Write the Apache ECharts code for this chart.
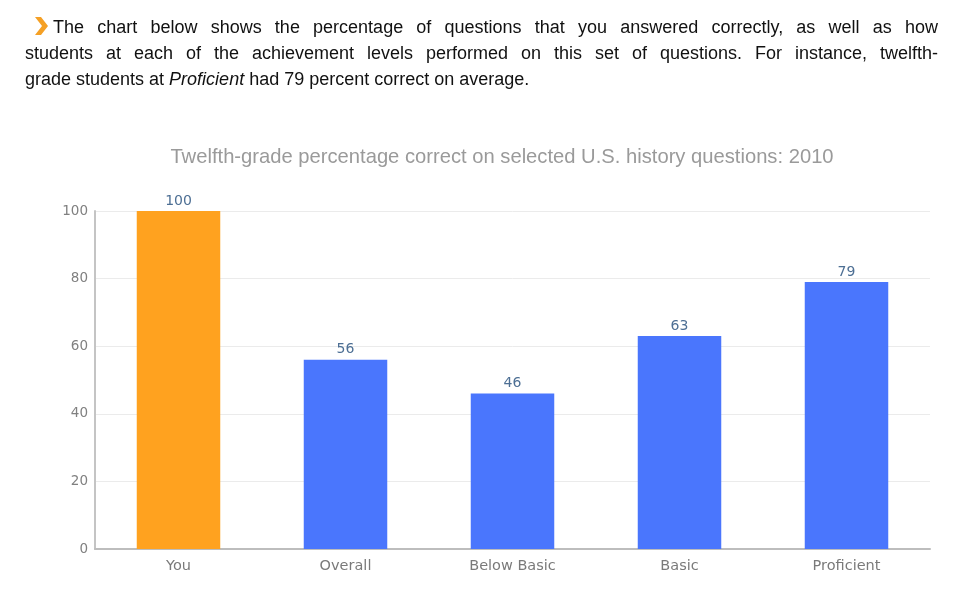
<!DOCTYPE html>
<html><head><meta charset="utf-8">
<script src="https://cdn.jsdelivr.net/npm/echarts@6/dist/echarts.min.js"></script>
<style>
html,body{margin:0;padding:0;background:#fff;}
#wrap{position:relative;width:974px;height:595px;overflow:hidden;}
#chart{position:absolute;left:0;top:0;width:974px;height:595px;}
#intro{position:absolute;left:25px;top:14px;width:913px;font-family:"Liberation Sans",Arial,sans-serif;font-size:18px;line-height:26px;color:#111;}
#intro div{text-align:justify;text-align-last:justify;white-space:nowrap;}
#intro div.last{text-align-last:left;}
#intro .arrow{display:inline-block;width:15px;height:18px;vertical-align:-2px;margin-left:9px;margin-right:4px;}
</style></head>
<body><div id="wrap"><div id="chart"></div>
<div id="intro">
<div><svg class="arrow" viewBox="0 0 15 18"><polygon points="1,0 7,0 14,9 7,18 1,18 8,9" fill="#f5a025"/></svg>The chart below shows the percentage of questions that you answered correctly, as well as how</div>
<div>students at each of the achievement levels performed on this set of questions. For instance, twelfth-</div>
<div class="last">grade students at <i>Proficient</i> had 79 percent correct on average.</div>
</div>
</div>
<script>
const categories = ["You", "Overall", "Below Basic", "Basic", "Proficient"];
const values = [100, 56, 46, 63, 79];
const barColors = ["#ffa21f", "#4a76fd", "#4a76fd", "#4a76fd", "#4a76fd"];
const yTicks = [0, 20, 40, 60, 80, 100];
const titleText = "Twelfth-grade percentage correct on selected U.S. history questions: 2010";

const chart = echarts.init(document.getElementById('chart'), null, {renderer: 'canvas'});
chart.setOption({
  animation: false,
  title: {
    text: titleText, left: 497, top: 142, textAlign: 'center',
    textStyle: {fontFamily: 'Liberation Sans, Arial', fontSize: 20.2, fontWeight: 'normal', color: '#9a9a9a'}
  },
  grid: {left: 95, right: 44, top: 211, bottom: 46},
  xAxis: {
    type: 'category', data: categories,
    axisLine: {lineStyle: {color: '#bdbdbd', width: 2}},
    axisTick: {show: false},
    axisLabel: {color: '#7a7a7a', fontFamily: 'DejaVu Sans', fontSize: 14.5, margin: 10}
  },
  yAxis: {
    type: 'value', min: 0, max: 100, interval: 20,
    axisLine: {show: true, lineStyle: {color: '#c4c4c4', width: 2}},
    axisTick: {show: false},
    axisLabel: {color: '#808080', fontFamily: 'DejaVu Sans', fontSize: 13.5, margin: 7,
      formatter: v => yTicks.includes(v) ? String(v) : ''},
    splitLine: {lineStyle: {color: '#ebebeb', width: 1}}
  },
  series: [{
    type: 'bar', barWidth: '50%',
    data: values.map((v, i) => ({value: v, itemStyle: {color: barColors[i]}})),
    label: {show: true, position: 'top', distance: 3, color: '#4d6f94', fontFamily: 'DejaVu Sans', fontSize: 14}
  }]
});
</script></body></html>
